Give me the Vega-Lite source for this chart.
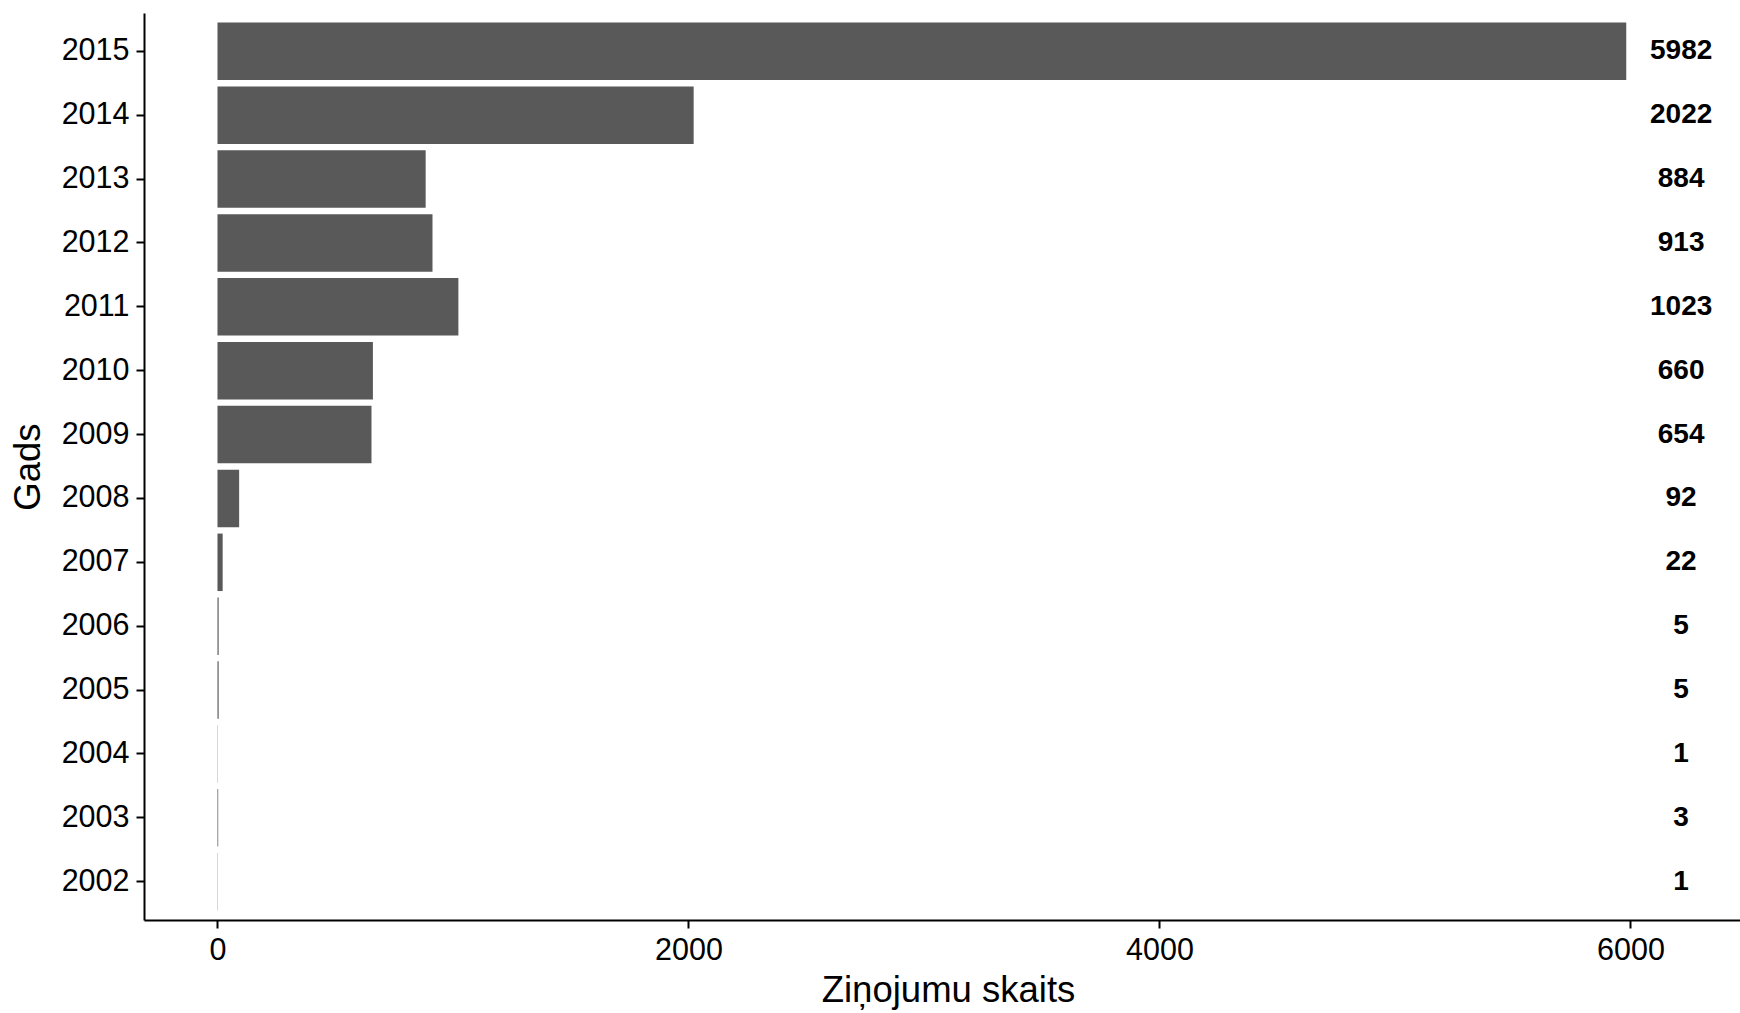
{
  "$schema": "https://vega.github.io/schema/vega-lite/v6.json",
  "autosize": {"type": "none"},
  "padding": {"left": 144, "top": 13, "right": 0, "bottom": 93},
  "width": 1596,
  "height": 907,
  "background": "white",
  "config": {
    "font": "Liberation Sans",
    "view": {"stroke": null},
    "axis": {
      "grid": false,
      "domainColor": "black",
      "domainWidth": 2,
      "tickColor": "black",
      "tickWidth": 2,
      "tickSize": 8,
      "labelColor": "black",
      "labelFontSize": 30.5,
      "labelFont": "Liberation Sans",
      "titleFont": "Liberation Sans",
      "titleFontSize": 36.5,
      "titleFontWeight": "normal",
      "titleColor": "black"
    }
  },
  "data": {
    "values": [
      {"Gads": "2015", "count": 5982},
      {"Gads": "2014", "count": 2022},
      {"Gads": "2013", "count": 884},
      {"Gads": "2012", "count": 913},
      {"Gads": "2011", "count": 1023},
      {"Gads": "2010", "count": 660},
      {"Gads": "2009", "count": 654},
      {"Gads": "2008", "count": 92},
      {"Gads": "2007", "count": 22},
      {"Gads": "2006", "count": 5},
      {"Gads": "2005", "count": 5},
      {"Gads": "2004", "count": 1},
      {"Gads": "2003", "count": 3},
      {"Gads": "2002", "count": 1}
    ]
  },
  "encoding": {
    "y": {
      "field": "Gads",
      "type": "ordinal",
      "sort": "descending",
      "scale": {"paddingInner": 0.1, "paddingOuter": 0.15},
      "axis": {"title": "Gads", "labelPadding": 7, "titlePadding": 14}
    }
  },
  "layer": [
    {
      "mark": {"type": "bar", "color": "#595959"},
      "encoding": {
        "x": {
          "field": "count",
          "type": "quantitative",
          "scale": {"domain": [-312, 6465], "nice": false, "zero": false},
          "axis": {"title": "Ziņojumu skaits", "values": [0, 2000, 4000, 6000], "format": "d", "labelPadding": 7, "titlePadding": 7, "titleX": 804}
        },
        "x2": {"datum": 0}
      }
    },
    {
      "mark": {"type": "text", "fontWeight": "bold", "fontSize": 28, "color": "black", "align": "center", "baseline": "middle", "font": "Liberation Sans"},
      "encoding": {
        "x": {"datum": 6215, "type": "quantitative"},
        "text": {"field": "count", "type": "quantitative"}
      }
    }
  ]
}
